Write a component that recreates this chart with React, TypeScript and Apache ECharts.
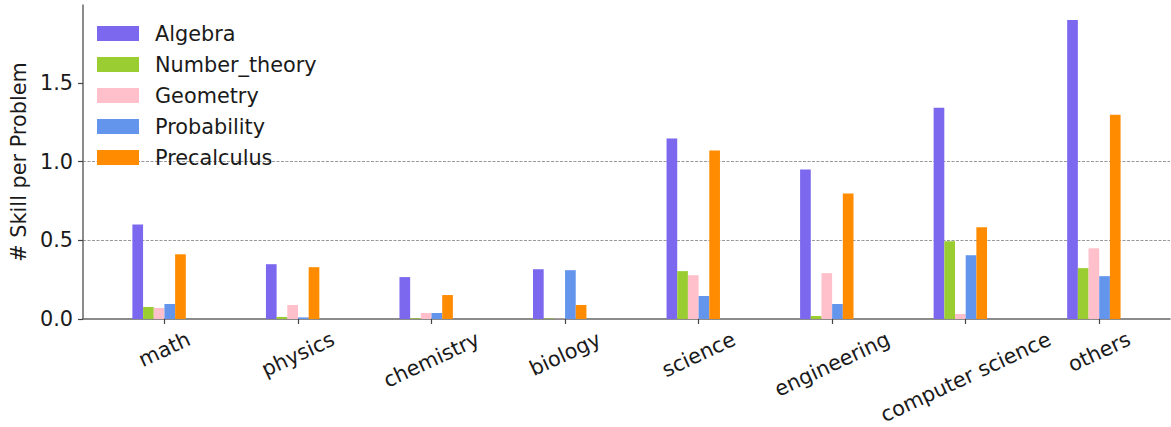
import React, { useEffect, useRef } from "react";
import * as echarts from "echarts";

const categories = ["math", "physics", "chemistry", "biology", "science", "engineering", "computer science", "others"];
const subjects = ["Algebra", "Number_theory", "Geometry", "Probability", "Precalculus"];
const colors = ["#7B68EE", "#9ACD32", "#FFC0CB", "#6495ED", "#FF8C00"];

const algebra = [0.601, 0.348, 0.266, 0.316, 1.146, 0.949, 1.342, 1.899];
const numberTheory = [0.076, 0.013, 0.004, 0.003, 0.304, 0.019, 0.494, 0.323];
const geometry = [0.070, 0.089, 0.038, 0.002, 0.278, 0.291, 0.032, 0.449];
const probability = [0.095, 0.010, 0.038, 0.310, 0.146, 0.095, 0.405, 0.272];
const precalculus = [0.411, 0.329, 0.152, 0.089, 1.070, 0.797, 0.582, 1.297];

const yTicks = [0, 0.5, 1.0, 1.5];
const xTicks = [0, 1, 2, 3, 4, 5, 6, 7];

const seriesValues = [algebra, numberTheory, geometry, probability, precalculus];
const BAR_W = 0.08;
const FONT = "DejaVu Sans";
const FS = 20.8;

export default function App() {
  const ref = useRef<HTMLDivElement>(null);
  useEffect(() => {
    if (!ref.current) return;
    document.body.style.margin = "0";
    const chart = echarts.init(ref.current, undefined, { renderer: "svg" });

    const canvas = document.createElement("canvas");
    const ctx = canvas.getContext("2d")!;
    ctx.font = `${FS}px '${FONT}'`;
    const s = Math.sin((25 * Math.PI) / 180);
    const c = Math.cos((25 * Math.PI) / 180);
    const rich: Record<string, any> = {};
    categories.forEach((name, i) => {
      const w = ctx.measureText(name).width;
      rich["c" + i] = {
        fontSize: FS,
        fontFamily: FONT,
        color: "#1a1a1a",
        padding: [w * s * c, w * s * s, 0, 0],
      };
    });

    const series = subjects.map((name, k) => ({
      type: "custom",
      name,
      itemStyle: { color: colors[k] },
      encode: { x: 0, y: 1 },
      data: seriesValues[k].map((v, i) => [i, v]),
      renderItem: (params: any, api: any) => {
        const x = (api.value(0) as number) + (k - 2.5) * BAR_W;
        const y = api.value(1) as number;
        const tl = api.coord([x - BAR_W / 2, y]);
        const br = api.coord([x + BAR_W / 2, 0]);
        return {
          type: "rect",
          shape: { x: tl[0], y: tl[1], width: br[0] - tl[0], height: br[1] - tl[1] },
          style: { fill: colors[k] },
        };
      },
    }));

    chart.setOption({
      animation: false,
      textStyle: { fontFamily: FONT },
      grid: { left: 78, right: 1, top: 5, bottom: 106, containLabel: false },
      legend: {
        orient: "vertical",
        left: 97,
        top: 23,
        padding: 0,
        itemWidth: 42,
        itemHeight: 15,
        itemGap: 10,
        data: subjects.map((name) => ({ name, icon: "rect" })),
        textStyle: { fontSize: FS, color: "#1a1a1a", fontFamily: FONT, padding: [0, 0, 0, 11] },
      },
      xAxis: {
        type: "value",
        min: -0.61,
        max: 7.53,
        axisLine: { show: true, onZero: false, lineStyle: { color: "#666", width: 1.5 } },
        axisTick: { show: true, customValues: xTicks, length: 5, lineStyle: { color: "#444", width: 1.2 } },
        axisLabel: {
          customValues: xTicks,
          rotate: 25,
          align: "center",
          verticalAlign: "middle",
          margin: 19,
          fontSize: FS,
          color: "#1a1a1a",
          formatter: (v: number) => `{c${Math.round(v)}|${categories[Math.round(v)] ?? ""}}`,
          rich,
        },
        splitLine: { show: false },
      },
      yAxis: {
        type: "value",
        min: 0,
        max: 1.995,
        interval: 0.5,
        name: "# Skill per Problem",
        nameLocation: "middle",
        nameGap: 48,
        nameTextStyle: { fontSize: FS, color: "#1a1a1a", fontFamily: FONT },
        axisLine: { show: true, onZero: false, lineStyle: { color: "#666", width: 1.5 } },
        axisTick: { show: true, customValues: yTicks, length: 5, lineStyle: { color: "#444", width: 1.2 } },
        axisLabel: {
          customValues: yTicks,
          formatter: (v: number) => v.toFixed(1),
          fontSize: FS,
          color: "#1a1a1a",
          margin: 10,
        },
        splitLine: {
          show: true,
          showMinLine: false,
          showMaxLine: false,
          lineStyle: { color: "#999", type: [3, 1.5], width: 1 },
        },
      },
      series,
    });
    return () => chart.dispose();
  }, []);
  return <div ref={ref} style={{ width: 1171, height: 427 }} />;
}
